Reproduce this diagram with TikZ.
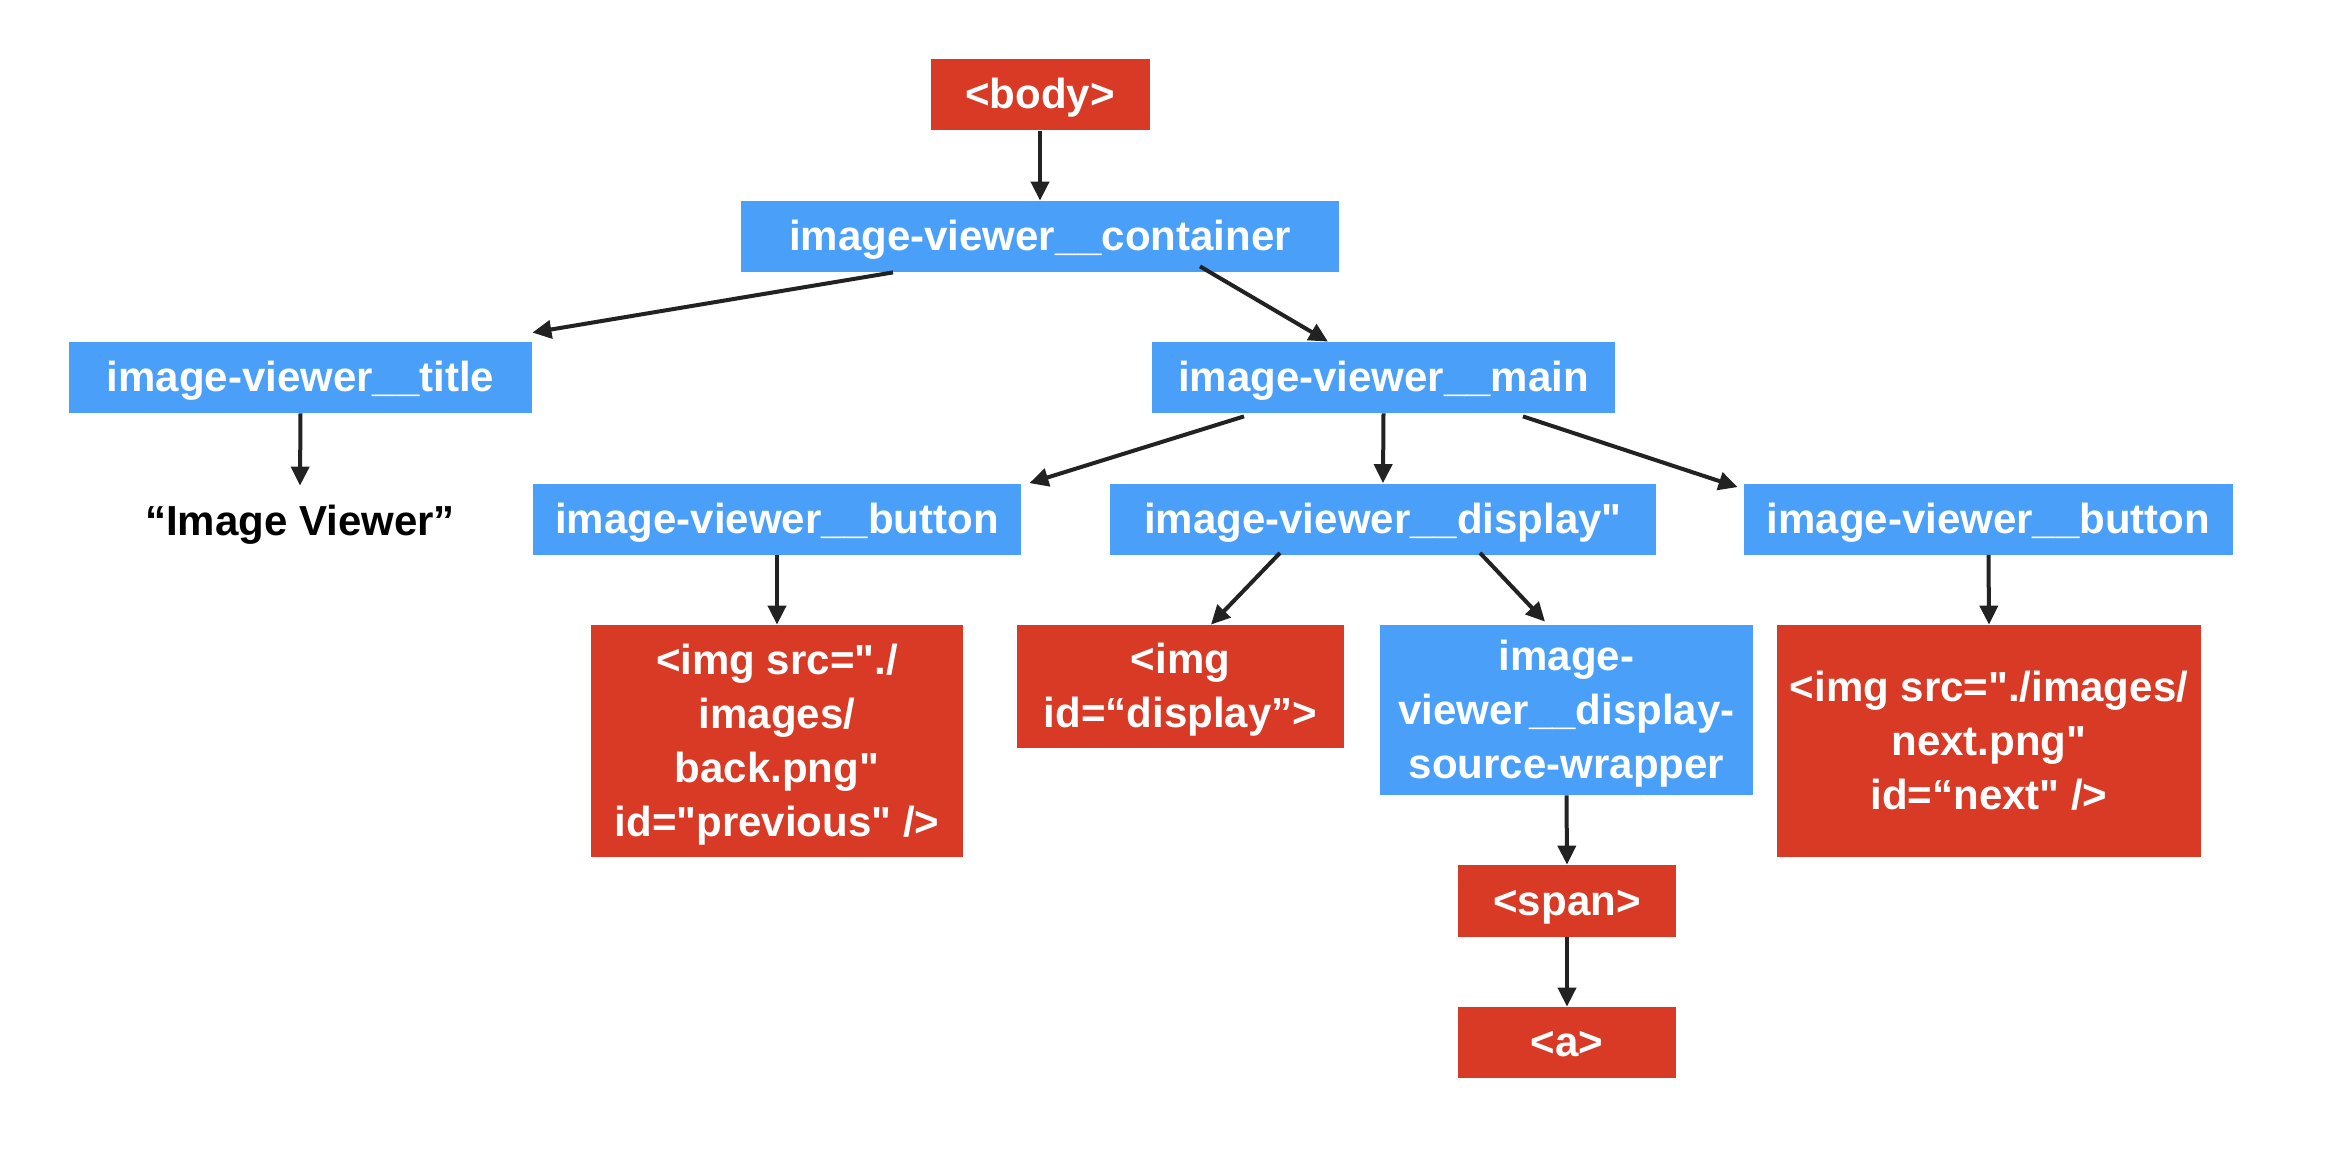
\documentclass[tikz,border=0pt]{standalone}
\usepackage{fontspec}
\newfontfamily\lib{Liberation Sans}
\usetikzlibrary{arrows.meta}
\definecolor{redc}{HTML}{D83A26}
\definecolor{bluec}{HTML}{4AA0F8}
\definecolor{arrowc}{HTML}{222222}
\newcommand{\ms}{\rule[-5pt]{0pt}{24pt}}
\begin{document}
\begin{tikzpicture}[x=0.5pt,y=-0.5pt,
  box/.style={rectangle, inner sep=0pt, text=white, align=center,
    font=\lib\bfseries\fontsize{21}{27}\selectfont},
  redbox/.style={box, fill=redc},
  bluebox/.style={box, fill=bluec},
  sz/.style 2 args={minimum width={#1*0.5pt}, minimum height={#2*0.5pt}},
  arr/.style={draw=arrowc, line width=2pt, -{Triangle[length=9.5pt,width=9pt]}}]
\useasboundingbox[fill=white] (0,0) rectangle (2342,1150);

\node[redbox, sz={219}{71}] (body) at (1040,95) {\ms<body>\ms};
\node[bluebox, sz={598}{71}] (container) at (1040,236.5) {\ms image-viewer\_\_container\ms};
\node[bluebox, sz={463}{71}] (title) at (300.5,377.5) {\ms image-viewer\_\_title\ms};
\node[bluebox, sz={463}{71}] (main) at (1383.5,377.5) {\ms image-viewer\_\_main\ms};
\node[bluebox, sz={488}{71}] (buttonL) at (777,519) {\ms image-viewer\_\_button\ms};
\node[bluebox, sz={546}{71}] (display) at (1383,519) {\ms image-viewer\_\_display"\ms};
\node[bluebox, sz={489}{71}] (buttonR) at (1988.5,519) {\ms image-viewer\_\_button\ms};
\node[redbox, sz={372}{232}] (imgback) at (777,741) {\ms<img src="./\\images/\\back.png"\\id="previous" />\ms};
\node[redbox, sz={327}{123}] (imgdisp) at (1180.5,686.5) {\ms<img\\id=“display”>\ms};
\node[bluebox, sz={373}{170}] (wrapper) at (1566.5,710) {\ms image-\\viewer\_\_display-\\source-wrapper\ms};
\node[redbox, sz={424}{232}] (imgnext) at (1989,741) {\ms<img src="./images/\\next.png"\\id=“next" />\ms};
\node[redbox, sz={218}{72}] (span) at (1567,901) {\ms<span>\ms};
\node[redbox, sz={218}{71}] (anode) at (1567,1042.5) {\ms<a>\ms};
\node[box, text=black, minimum height=35.5pt] (txt) at (300,521.5) {\ms“Image Viewer”\ms};

\draw[arr] (body.south) -- (container.north);
\draw[arr] ([xshift=-73.5pt]container.south) -- ([yshift=4.5pt]title.north east);
\draw[arr] ([xshift=80pt,yshift=3pt]container.south) -- ([xshift=-27.75pt]main.north);
\draw[arr] (title.south) -- (txt.north);
\draw[arr] ([xshift=-69.75pt,yshift=-1.5pt]main.south) -- ([xshift=4pt]buttonL.north east);
\draw[arr] (main.south) -- (display.north);
\draw[arr] ([xshift=69.75pt,yshift=-1.5pt]main.south) -- ([xshift=-3pt,yshift=-2pt]buttonR.north west);
\draw[arr] (buttonL.south) -- (imgback.north);
\draw[arr] ([xshift=-51.5pt,yshift=1pt]display.south) -- ([xshift=15.25pt]imgdisp.north);
\draw[arr] ([xshift=48.5pt,yshift=1pt]display.south) -- ([xshift=-10.75pt,yshift=1.5pt]wrapper.north);
\draw[arr] (buttonR.south) -- (imgnext.north);
\draw[arr] (wrapper.south) -- (span.north);
\draw[arr] (span.south) -- (anode.north);
\end{tikzpicture}
\end{document}
